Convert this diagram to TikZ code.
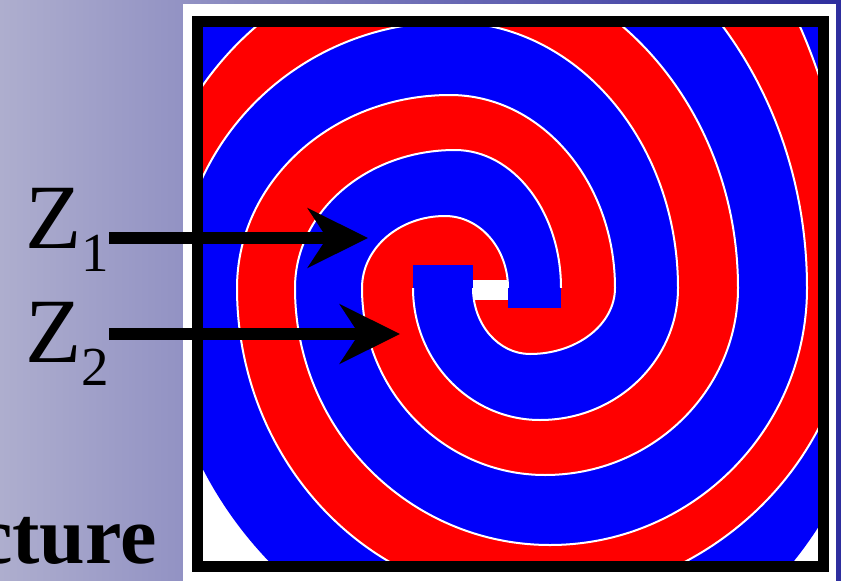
\documentclass[tikz,border=0pt]{standalone}
\usepackage{fontspec}
\setmainfont{Liberation Serif}
\usepackage{xcolor}
\usepackage{tikz}
\usetikzlibrary{arrows.meta}

\definecolor{slidelight}{RGB}{174,174,206}
\definecolor{slidedark}{RGB}{46,46,158}
\definecolor{armred}{RGB}{255,0,0}
\definecolor{armblue}{RGB}{0,0,250}
\newcommand{\zsub}[1]{\raisebox{-23pt}{\fontsize{55}{55}\selectfont #1}}
\newcommand{\upperarc}[4]{(#1,288) arc[start angle=180, end angle=90, x radius={(#2-(#1))*1pt}, y radius={(288-(#3))*1pt}] arc[start angle=90, end angle=0, x radius={(#4-(#2))*1pt}, y radius={(288-(#3))*1pt}]}
\newcommand{\lowerarc}[4]{(#1,288) arc[start angle=180, end angle=270, x radius={(#2-(#1))*1pt}, y radius={(#3-288)*1pt}] arc[start angle=270, end angle=360, x radius={(#4-(#2))*1pt}, y radius={(#3-288)*1pt}]}

\begin{document}
\begin{tikzpicture}[x=1pt, y=-1pt,
  sep/.style={draw=white, line width=2pt},
  zlab/.style={inner sep=0pt, anchor=base east, font=\fontsize{92}{92}\selectfont},
  ptr/.style={line width=12pt, -{Stealth[length=60pt, width=59pt, inset=19pt]}}]
\useasboundingbox (0,0) rectangle (841,581);
\shade[left color=slidelight, right color=slidedark] (0,0) rectangle (841,581);
\fill[white] (183,4) rectangle (836,581);
\begin{scope}
  \clip (203,27) rectangle (818,288);
  \fill[armblue] (203,27) rectangle (818,288);
  \foreach \lft/\tx/\ty/\rgt/\col in {60/445/-242/853/armred, 100/445/-120/807/armblue,
      140/440/-43/738/armred, 178/450/22/678/armblue, 237/450/95/615/armred,
      295/455/150/561/armblue, 362/445/216/508/armred} {
    \fill[\col] \upperarc{\lft}{\tx}{\ty}{\rgt} -- cycle;
    \draw[sep] \upperarc{\lft}{\tx}{\ty}{\rgt};
  }
\end{scope}
\begin{scope}
  \clip (203,288) rectangle (818,561);
  \fill[armblue] \lowerarc{159}{554}{683}{886} -- cycle;
  \foreach \lft/\bx/\by/\rgt/\col in {237/530/600/853/armred, 295/550/545/807/armblue,
      362/545/475/738/armred, 413/540/420/678/armblue, 473/530/354/615/armred} {
    \fill[\col] \lowerarc{\lft}{\bx}{\by}{\rgt} -- cycle;
    \draw[sep] \lowerarc{\lft}{\bx}{\by}{\rgt};
  }
\end{scope}
\fill[armblue] (413,265) rectangle (473,288);
\fill[armblue] (508,288) rectangle (561,308);
\fill[white] (473,280) rectangle (508,300);
\draw[line width=11pt] (197.5,21.5) rectangle (823.5,566.5);
\node[inner sep=0pt, anchor=base west, font=\fontsize{82}{82}\selectfont\bfseries] (title) at (-24,563) {cture};
\node[zlab] (z1) at (109,248) {Z\zsub{1}};
\node[zlab] (z2) at (109,362) {Z\zsub{2}};
\coordinate (t1) at (368,238);
\coordinate (t2) at (400,334);
\draw[ptr] (z1.east |- t1) -- (t1);
\draw[ptr] (z2.east |- t2) -- (t2);
\end{tikzpicture}
\end{document}
